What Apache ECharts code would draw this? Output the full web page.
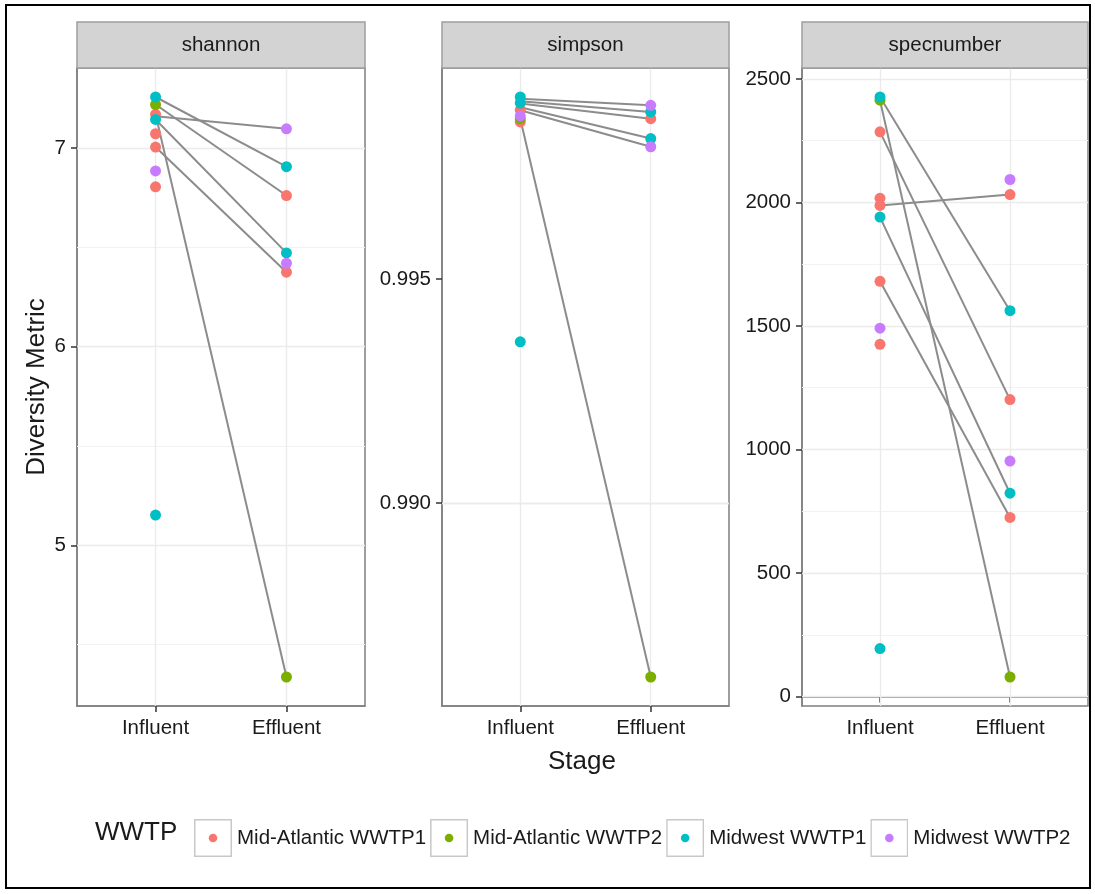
<!DOCTYPE html>
<html><head><meta charset="utf-8">
<script src="https://cdn.jsdelivr.net/npm/echarts@6/dist/echarts.min.js"></script>
<style>html,body{margin:0;padding:0;background:#fff}#c{width:1095px;height:894px}</style>
</head><body><div id="c"></div>
<script>
// ---- data ----
const stages = ['Influent', 'Effluent'];
const wwtps = ['Mid-Atlantic WWTP1', 'Mid-Atlantic WWTP2', 'Midwest WWTP1', 'Midwest WWTP2'];
const colors = ['#F8766D', '#7CAE00', '#00BFC4', '#C77CFF'];
const metrics = ['shannon', 'simpson', 'specnumber'];

// values per WWTP (same order as wwtps)
const shannonInfluent = [[7.17, 7.072, 7.005, 6.805], [7.219], [7.257, 7.144, 5.152], [6.885]];
const shannonEffluent = [[6.761, 6.375], [4.337], [6.906, 6.472], [7.097, 6.42]];
const shannonPairs = [[7.257, 6.906], [7.219, 6.761], [7.16, 7.097], [7.144, 6.472], [7.005, 6.375], [7.17, 4.337]];
const shannonTicks = [5, 6, 7];
const shannonMinor = [4.5, 5.5, 6.5];

const simpsonInfluent = [[0.998778, 0.998511], [0.99858], [0.999067, 0.998933, 0.9936], [0.998644]];
const simpsonEffluent = [[0.998584], [0.986118], [0.998733, 0.99814], [0.998882, 0.997956]];
const simpsonPairs = [[0.99903, 0.998882], [0.99897, 0.998733], [0.99892, 0.998584], [0.99884, 0.99814], [0.99877, 0.997956], [0.99858, 0.986118]];
const simpsonTicks = [0.990, 0.995];
const simpsonMinor = [0.9875, 0.9925, 0.9975];

const specInfluent = [[2286, 2017, 1988, 1681, 1426], [2414], [2427, 1941, 194], [1491]];
const specEffluent = [[2032, 1202, 725], [79], [1562, 823], [2093, 953]];
const specPairs = [[2427, 1562], [2414, 79], [2286, 1202], [1988, 2032], [1941, 823], [1681, 725]];
const specTicks = [0, 500, 1000, 1500, 2000, 2500];
const specMinor = [250, 750, 1250, 1750, 2250];

// ---- layout ----
const panelBoxes = [
  {left: 77, width: 288},
  {left: 442, width: 287},
  {left: 802, width: 286}
];
const panelTop = 68, panelHeight = 638, stripTop = 22, stripH = 46;

const panels = [
  {inf: shannonInfluent, eff: shannonEffluent, pairs: shannonPairs, ticks: shannonTicks, minor: shannonMinor, fmt: v => String(v)},
  {inf: simpsonInfluent, eff: simpsonEffluent, pairs: simpsonPairs, ticks: simpsonTicks, minor: simpsonMinor, fmt: v => v.toFixed(3)},
  {inf: specInfluent, eff: specEffluent, pairs: specPairs, ticks: specTicks, minor: specMinor, fmt: v => String(v)}
];

const txt = '#1a1a1a';
const FS = 20.5;
const font = 'Liberation Sans, Arial, sans-serif';

function iconFor(color) {
  const svg = "<svg xmlns='http://www.w3.org/2000/svg' width='38' height='38' viewBox='0 0 38 38'>" +
    "<rect x='0.75' y='0.75' width='36.5' height='36.5' fill='white' stroke='#c8c8c8' stroke-width='1.5'/>" +
    "<circle cx='19' cy='19' r='4.3' fill='" + color + "'/></svg>";
  return 'image://data:image/svg+xml;charset=utf-8,' + encodeURIComponent(svg);
}

const grid = [], xAxis = [], yAxis = [], series = [], graphic = [];

panels.forEach((p, i) => {
  const all = [].concat(...p.inf, ...p.eff);
  const lo = Math.min(...all), hi = Math.max(...all);
  const pad = (hi - lo) * 0.05;
  grid.push({left: panelBoxes[i].left, width: panelBoxes[i].width, top: panelTop, height: panelHeight,
    show: true, backgroundColor: '#fff', borderColor: '#7f7f7f', borderWidth: 1.5});
  xAxis.push({
    gridIndex: i, type: 'value', min: 0.4, max: 2.6,
    axisLine: {show: true, lineStyle: {color: '#7f7f7f', width: 1.5}},
    axisTick: {show: true, customValues: [1, 2], length: 6, lineStyle: {color: '#333', width: 1.5}},
    axisLabel: {customValues: [1, 2], formatter: v => stages[Math.round(v) - 1], fontSize: FS, color: txt, margin: 12, fontFamily: font},
    splitLine: {show: false}
  });
  yAxis.push({
    gridIndex: i, type: 'value', min: lo - pad, max: hi + pad,
    axisLine: {show: true, lineStyle: {color: '#7f7f7f', width: 1.5}},
    axisTick: {show: true, customValues: p.ticks, length: 6, lineStyle: {color: '#333', width: 1.5}},
    axisLabel: {customValues: p.ticks, formatter: p.fmt, fontSize: FS, color: txt, margin: 11, fontFamily: font},
    splitLine: {show: false}
  });
  // grid lines (minor + major)
  const ml = [];
  p.minor.forEach(v => ml.push({yAxis: v, lineStyle: {color: '#F2F2F2', width: 1}}));
  p.ticks.forEach(v => ml.push({yAxis: v, lineStyle: {color: '#EBEBEB', width: 1.4}}));
  [1, 2].forEach(v => ml.push({xAxis: v, lineStyle: {color: '#EBEBEB', width: 1.4}}));
  series.push({
    type: 'line', xAxisIndex: i, yAxisIndex: i, data: [], z: 1, silent: true,
    markLine: {silent: true, z: 1, symbol: ['none', 'none'], label: {show: false}, animation: false,
      lineStyle: {type: 'solid'}, data: ml}
  });
  series.push({
    type: 'lines', coordinateSystem: 'cartesian2d', xAxisIndex: i, yAxisIndex: i, z: 2, silent: true,
    lineStyle: {color: '#8c8c8c', width: 2, opacity: 1, curveness: 0},
    data: p.pairs.map(pr => ({coords: [[1, pr[0]], [2, pr[1]]]}))
  });
  wwtps.forEach((name, w) => {
    series.push({
      type: 'scatter', name: name, xAxisIndex: i, yAxisIndex: i, z: 3, silent: true,
      symbolSize: 11, itemStyle: {color: colors[w], opacity: 1},
      data: p.inf[w].map(v => [1, v]).concat(p.eff[w].map(v => [2, v]))
    });
  });
  // strip
  graphic.push({type: 'rect', shape: {x: panelBoxes[i].left, y: stripTop, width: panelBoxes[i].width, height: stripH},
    style: {fill: '#D3D3D3', stroke: '#9e9e9e', lineWidth: 1.5}, z: 10});
  graphic.push({type: 'text', x: panelBoxes[i].left + panelBoxes[i].width / 2, y: stripTop + stripH / 2,
    style: {text: metrics[i], fill: txt, font: FS + 'px ' + font, textAlign: 'center', textVerticalAlign: 'middle'}, z: 11});
});

// outer frame
graphic.push({type: 'rect', shape: {x: 6, y: 5, width: 1084, height: 883}, style: {fill: 'none', stroke: '#000', lineWidth: 2}, z: 20});
// axis titles
graphic.push({type: 'text', x: 37, y: 387, rotation: Math.PI / 2,
  style: {text: 'Diversity Metric', fill: txt, font: '26px ' + font, textAlign: 'center', textVerticalAlign: 'middle'}, z: 11});
graphic.push({type: 'text', x: 582, y: 762,
  style: {text: 'Stage', fill: txt, font: '26px ' + font, textAlign: 'center', textVerticalAlign: 'middle'}, z: 11});
// legend title
graphic.push({type: 'text', x: 95, y: 833,
  style: {text: 'WWTP', fill: txt, font: '26px ' + font, textAlign: 'left', textVerticalAlign: 'middle'}, z: 11});

const chart = echarts.init(document.getElementById('c'), null, {renderer: 'canvas'});
chart.setOption({
  animation: false,
  backgroundColor: '#fff',
  grid, xAxis, yAxis, series, graphic,
  legend: {
    left: 189, top: 814, orient: 'horizontal', itemWidth: 38, itemHeight: 38, itemGap: 4,
    selectedMode: false,
    textStyle: {fontSize: FS, color: txt, fontFamily: font},
    data: wwtps.map((n, i) => ({name: n, icon: iconFor(colors[i])}))
  }
});
</script></body></html>
